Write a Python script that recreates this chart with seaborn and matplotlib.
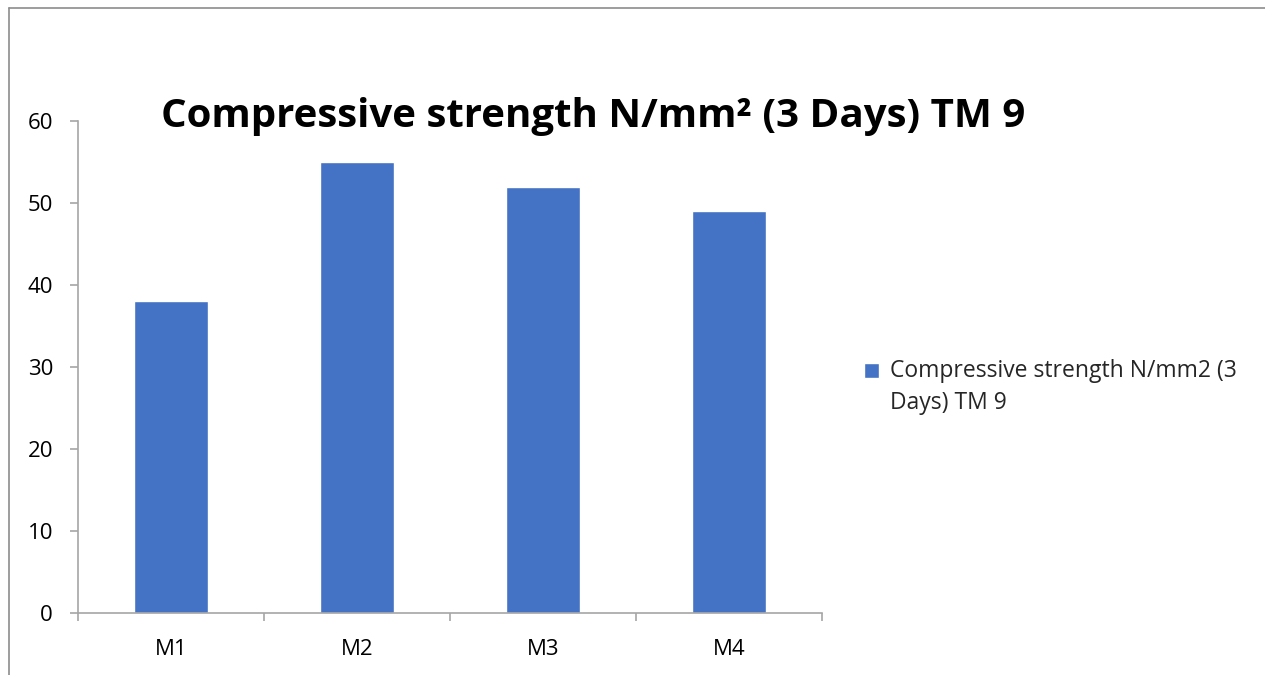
import matplotlib
matplotlib.use("Agg")
import matplotlib.pyplot as plt
import matplotlib.lines as mlines
import matplotlib.patches as mpatches
from matplotlib.legend_handler import HandlerPatch
import pandas as pd
import seaborn as sns

# Chart data
categories = ["M1", "M2", "M3", "M4"]
strength_3_days = [38, 55, 52, 49]
series_name = "Compressive strength N/mm2 (3\nDays) TM 9"
title_text = "Compressive strength N/mm\u00b2 (3 Days) TM 9"
y_ticks = [0, 10, 20, 30, 40, 50, 60]

df = pd.DataFrame({"mix": categories, "strength": strength_3_days, "series": series_name})

sns.set_theme(style="white")
plt.rcParams["font.family"] = ["Open Sans", "DejaVu Sans"]

fig = plt.figure(figsize=(12.65, 6.75), dpi=100)
ax = fig.add_axes([0.0617, 0.0919, 0.5881, 0.7288])

sns.barplot(data=df, x="mix", y="strength", hue="series", palette=["#4472C4"],
            width=0.4, ax=ax, legend=True, saturation=1)

ax.set_ylim(0, 60)
ax.set_yticks(y_ticks)
ax.set_xlim(-0.5, len(categories) - 0.5)
ax.set_xlabel("")
ax.set_ylabel("")

grey = "#A6A6A6"
for side in ["top", "right"]:
    ax.spines[side].set_visible(False)
for side in ["left", "bottom"]:
    ax.spines[side].set_color(grey)
    ax.spines[side].set_linewidth(1.2)

ax.tick_params(axis="y", which="major", direction="out", length=6, width=1.2,
               color=grey, labelsize=16, labelcolor="black", pad=12, left=True)
ax.tick_params(axis="x", which="major", length=0, labelsize=16, labelcolor="black", pad=19)
# category boundary ticks on the x axis
ax.set_xticks([i - 0.5 for i in range(len(categories) + 1)], minor=True)
ax.tick_params(axis="x", which="minor", direction="out", length=6, width=1.2,
               color=grey, bottom=True)


def first_line_square(legend, orig_handle, xdescent, ydescent, width, height, fontsize):
    # square swatch aligned with the first line of the wrapped label
    side = 11
    return mpatches.Rectangle((-xdescent, -ydescent + height / 2 - side / 2 + 12.5),
                              side, side)


handles, labels = ax.get_legend_handles_labels()
leg = ax.legend(handles, labels, loc="center left", bbox_to_anchor=(1.044, 0.46),
                frameon=False, fontsize=16.5, handlelength=0.67, handleheight=0.67,
                handletextpad=0.45, borderaxespad=0,
                handler_map={mpatches.Rectangle: HandlerPatch(patch_func=first_line_square)})
for t in leg.get_texts():
    t.set_linespacing(1.45)

fig.text(0.469, 0.828, title_text, ha="center", va="center",
         fontsize=29, fontweight="bold", color="black")

# outer chart frame (left and top edges)
fig.add_artist(mlines.Line2D([9 / 1265, 9 / 1265], [0, 1 - 8 / 675],
                             transform=fig.transFigure, color="#8C8C8C", lw=1.2))
fig.add_artist(mlines.Line2D([9 / 1265, 1], [1 - 8 / 675, 1 - 8 / 675],
                             transform=fig.transFigure, color="#8C8C8C", lw=1.2))

fig.savefig("out.png", dpi=100)
